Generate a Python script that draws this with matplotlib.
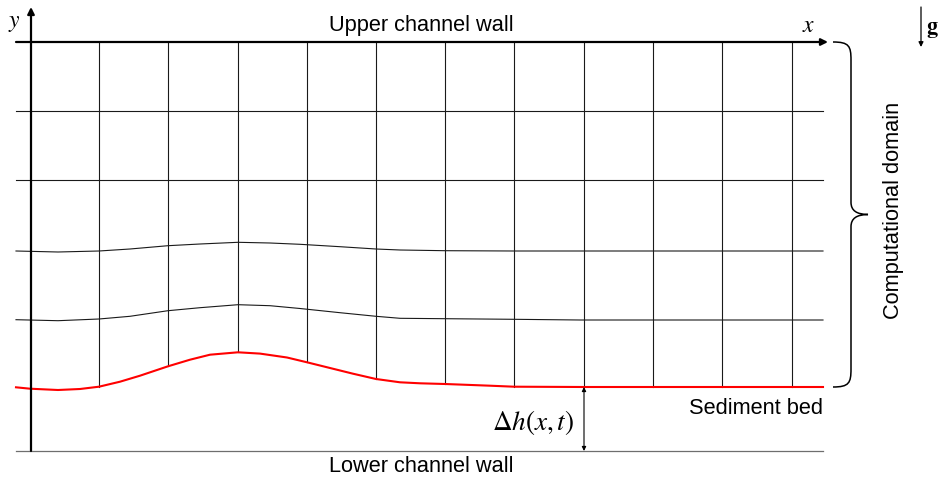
import numpy as np
import matplotlib.pyplot as plt
from matplotlib.path import Path
from matplotlib.patches import PathPatch

plt.rcParams['font.family'] = ['Liberation Sans', 'DejaVu Sans']
plt.rcParams['mathtext.fontset'] = 'stix'

# domain geometry (units = picture pixels)
x_left, x_right = 16, 823
y_top, y_bottom = 43, 452
axis_x = 31

# vertical grid lines and the two flat interior lines
grid_x = [99, 168, 238, 307, 376, 445, 514, 584, 653, 722, 792]
flat_y = [112, 181]

# sediment bed profile (red)
bed_x = [16, 30, 58, 80, 99, 120, 140, 168, 190, 210, 238, 260, 287, 307, 330, 353, 376, 400, 420, 445, 490, 514, 584, 823]
bed_y = [388.3, 389.7, 391, 390, 387.7, 382.7, 376.7, 367.3, 360.7, 355.7, 353.3, 354.6, 358.5, 363.3, 369, 374.7, 380, 383.3, 384.3, 385, 386.7, 387.7, 388, 388]

# deformed mesh lines following the bed
wave_x = [16, 58, 99, 130, 168, 200, 238, 270, 300, 340, 376, 400, 445, 514, 580, 823]
wave1_y = [252, 253, 252, 250, 246.7, 245, 243.3, 244, 245.3, 247.7, 250, 251, 251.7, 252, 252, 252]
wave2_y = [320.7, 321.7, 320, 317.3, 311.7, 308.7, 305.7, 306.7, 309.5, 313.7, 317.3, 319.3, 319.7, 320.3, 321, 321]

fig = plt.figure(figsize=(9.4, 4.81), dpi=100)
ax = fig.add_axes([0, 0, 1, 1])
ax.set_xlim(0, 940)
ax.set_ylim(481, 0)
ax.axis('off')

gc = '#1a1a1a'
for gx in grid_x:
    ax.plot([gx, gx], [y_top, np.interp(gx, bed_x, bed_y)], color=gc, lw=0.8)
for fy in flat_y:
    ax.plot([x_left, x_right], [fy, fy], color=gc, lw=0.8)
ax.plot(wave_x, wave1_y, color=gc, lw=0.8)
ax.plot(wave_x, wave2_y, color=gc, lw=0.8)
ax.plot(bed_x, bed_y, color='#ff0000', lw=1.5)
ax.plot([x_left, x_right], [y_bottom, y_bottom], color='#6e6e6e', lw=0.9)

# axes: upper wall = x axis, y axis
ax.annotate('', xy=(828, y_top), xytext=(x_left, y_top),
            arrowprops=dict(arrowstyle='-|>', color='black', lw=1.6, mutation_scale=10, shrinkA=0, shrinkB=0))
ax.annotate('', xy=(axis_x, 8), xytext=(axis_x, y_bottom),
            arrowprops=dict(arrowstyle='-|>', color='black', lw=1.6, mutation_scale=10, shrinkA=0, shrinkB=0))
ax.text(14, 23, r'$y$', fontsize=17, ha='center', va='center')
ax.text(809, 26, r'$x$', fontsize=17, ha='center', va='center')

ax.text(421, 26, 'Upper channel wall', fontsize=15.7, ha='center', va='center')
ax.text(421, 467, 'Lower channel wall', fontsize=15.7, ha='center', va='center')
ax.text(823, 409, 'Sediment bed', fontsize=15.7, ha='right', va='center')

# bed height arrow
dh_x = 584
ax.annotate('', xy=(dh_x, np.interp(dh_x, bed_x, bed_y)), xytext=(dh_x, y_bottom),
            arrowprops=dict(arrowstyle='<|-|>', color='black', lw=0.8, mutation_scale=6, shrinkA=0, shrinkB=0))
ax.text(574, 423, r'$\Delta h(x,t)$', fontsize=19.5, ha='right', va='center')

# brace for computational domain
bx0, bx1, bx2 = 833, 851, 868
ym = (y_top + 388) / 2
verts = [(bx0, y_top), (bx1 - 2, y_top), (bx1, y_top + 4), (bx1, y_top + 18),
         (bx1, ym - 12), (bx1, ym), (bx2, ym),
         (bx1, ym), (bx1, ym + 12), (bx1, 388 - 18),
         (bx1, 388 - 4), (bx1 - 2, 388), (bx0, 388)]
codes = [Path.MOVETO, Path.CURVE4, Path.CURVE4, Path.CURVE4,
         Path.LINETO, Path.CURVE3, Path.CURVE3,
         Path.CURVE3, Path.CURVE3, Path.LINETO,
         Path.CURVE4, Path.CURVE4, Path.CURVE4]
ax.add_patch(PathPatch(Path(verts, codes), fill=False, lw=1.1, color='black'))
ax.text(893, 210, 'Computational domain', fontsize=15.7, rotation=90, ha='center', va='center')

# gravity
ax.annotate('', xy=(921, 48), xytext=(921, 8),
            arrowprops=dict(arrowstyle='-|>', color='black', lw=0.9, mutation_scale=7, shrinkA=0, shrinkB=0))
ax.text(932, 30, r'$\mathbf{g}$', fontsize=16, ha='center', va='center')

fig.savefig('out.png', dpi=100)
